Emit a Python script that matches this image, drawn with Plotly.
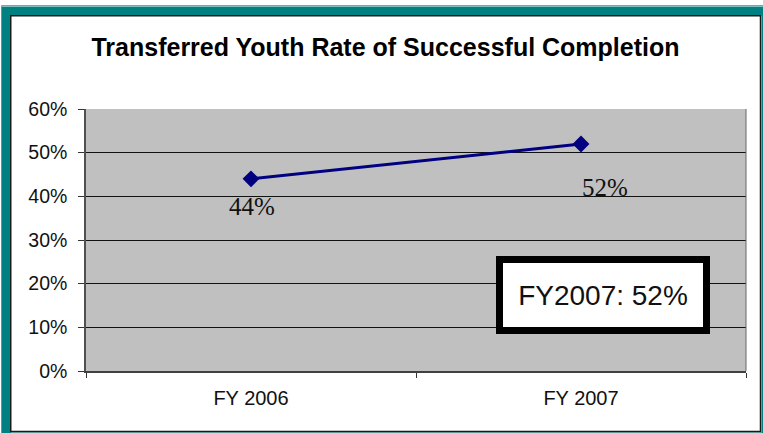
import plotly.graph_objects as go

# ---- data ----
categories = ["FY 2006", "FY 2007"]
rates = [0.44, 0.52]
y_ticks = [0, 0.1, 0.2, 0.3, 0.4, 0.5, 0.6]
title_text = "Transferred Youth Rate of Successful Completion"
callout_text = "FY2007: 52%"

W, H = 763, 433
L, R, T, B = 86, 17, 109, 62
PW, PH = W - L - R, H - T - B


def px_x(px):
    return (px - L) / PW


def px_y(py):
    return (H - B - py) / PH


fig = go.Figure()
fig.add_trace(go.Scatter(
    x=categories, y=rates, mode="lines+markers",
    line=dict(color="#000080", width=3),
    marker=dict(symbol="diamond", size=13, color="#000080"),
    hoverinfo="skip", showlegend=False,
))

label_style = [dict(xanchor="center", yshift=-28, xshift=1),
               dict(xanchor="left", yshift=-44, xshift=-1)]
annotations = []
for cat, val, st in zip(categories, rates, label_style):
    annotations.append(dict(
        x=cat, y=val, xref="x", yref="y", text=f"{val:.0%}", showarrow=False,
        yanchor="middle",
        font=dict(family="Liberation Serif, Times New Roman, serif", size=25, color="#111"),
        **st))

annotations.append(dict(
    x=px_x(603), y=px_y(295), xref="paper", yref="paper",
    text=callout_text, showarrow=False, xanchor="center", yanchor="middle",
    font=dict(family="Liberation Sans Narrow, Arial Narrow, Liberation Sans, Arial", size=28, color="#111"),
    bgcolor="white", bordercolor="black", borderwidth=7, borderpad=0,
    width=200, height=64,
))

shapes = [
    dict(type="rect", xref="paper", yref="paper", x0=px_x(1.5), x1=px_x(775), y0=px_y(5.5), y1=px_y(445),
         line=dict(color="#999999", width=1)),
    dict(type="rect", xref="paper", yref="paper", x0=px_x(6.25), x1=px_x(766), y0=px_y(11), y1=px_y(437),
         line=dict(color="#008080", width=9)),
    dict(type="rect", xref="paper", yref="paper", x0=px_x(10.75), x1=px_x(760.5), y0=px_y(15.75), y1=px_y(431.5),
         line=dict(color="#1a1a1a", width=1.5)),
    dict(type="line", xref="paper", yref="paper", x0=1, x1=1, y0=0, y1=1,
         line=dict(color="#666666", width=1)),
]

fig.update_layout(
    width=W, height=H,
    margin=dict(l=L, r=R, t=T, b=B),
    paper_bgcolor="white", plot_bgcolor="#C0C0C0",
    title=dict(text=f"<b>{title_text}</b>", x=385.5 / W, xref="container", xanchor="center",
               y=1 - 47 / H, yref="container", yanchor="middle",
               font=dict(family="Liberation Sans, Arial, sans-serif", size=25, color="black")),
    font=dict(family="Liberation Sans, Arial, sans-serif", size=20, color="#111"),
    annotations=annotations, shapes=shapes,
    xaxis=dict(type="category", range=[-0.5, 1.5], tickson="boundaries", ticks="outside",
               ticklen=5, tickcolor="#333", showgrid=False, showline=True, linecolor="#404040",
               linewidth=2, mirror=False, ticklabelstandoff=8, fixedrange=True),
    yaxis=dict(range=[0, 0.6], tickvals=y_ticks, tickformat=".0%", ticks="outside", ticklen=6,
               tickcolor="#333", showgrid=True, gridcolor="#111", gridwidth=1, showline=True,
               linecolor="#505050", linewidth=1.5, zeroline=False, ticklabelstandoff=7, fixedrange=True,
               tickfont=dict(size=19.5)),
)

fig.write_html("out.html", config={"displayModeBar": False},
               post_script="document.body.style.margin='0';document.body.style.overflow='hidden';")
